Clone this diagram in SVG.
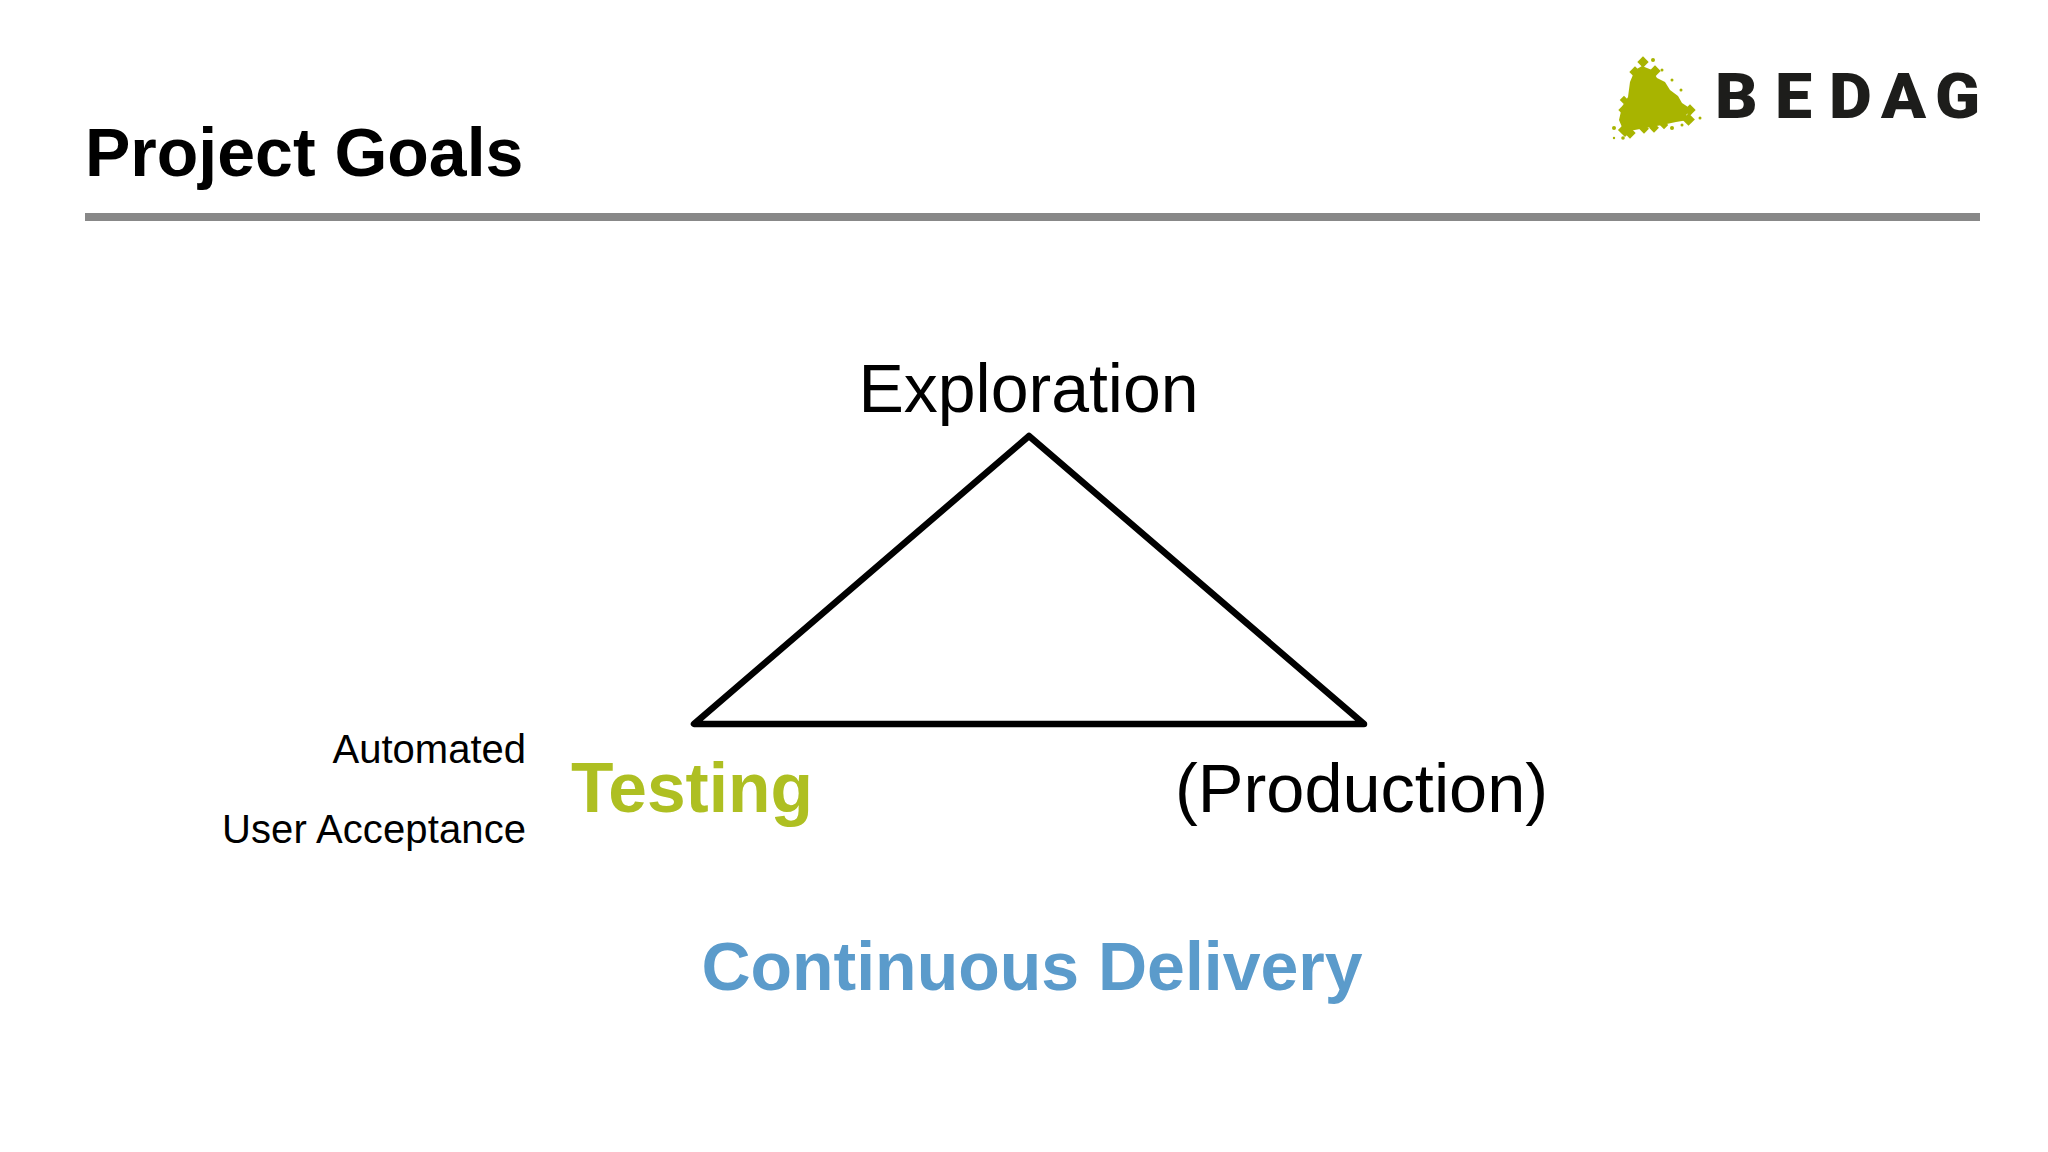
<svg xmlns="http://www.w3.org/2000/svg" width="2048" height="1152" viewBox="0 0 2048 1152">
<style>
text{font-family:"Liberation Sans",Arial,sans-serif;fill:#000}
.b{font-weight:700}
.big{font-size:68px}
.small{font-size:40px;text-anchor:end}
.dot{fill:#a8b400}
</style>
<rect width="2048" height="1152" fill="#fff"/>
<g id="header">
<text class="b big" x="85" y="176">Project Goals</text>
<rect x="85" y="213" width="1895" height="8" fill="#888"/>
</g>
<g id="logo">
<path class="dot" d="M1642 66L1652 70L1657 78L1665 82L1670 90L1678 96L1682 103L1688 107L1691 111L1686 115L1688 120L1676 122L1662 125L1640 129L1624 132L1619 120L1622 107L1628 97L1630 82L1635 70Z"/>
<g class="dot">
<rect x="1639" y="58" width="8" height="8" transform="rotate(45 1643 62)"/>
<rect x="1631" y="68" width="8" height="8" transform="rotate(45 1635 72)"/>
<rect x="1651" y="67" width="8" height="8" transform="rotate(45 1655 71)"/>
<rect x="1686" y="106" width="8" height="8" transform="rotate(45 1690 110)"/>
<rect x="1684" y="115" width="9" height="9" transform="rotate(45 1688.500 119.500)"/>
<rect x="1620" y="125" width="10" height="10" transform="rotate(45 1625 130)"/>
<rect x="1626" y="129" width="8" height="8" transform="rotate(45 1630 133)"/>
<rect x="1621" y="97" width="6" height="6" transform="rotate(45 1624 100)"/>
<rect x="1620" y="106" width="8" height="8" transform="rotate(45 1624 110)"/>
<rect x="1641" y="125" width="7" height="7" transform="rotate(45 1644 128)"/>
<rect x="1651" y="124" width="7" height="7" transform="rotate(45 1654 127)"/>
<rect x="1661" y="122" width="6" height="6" transform="rotate(45 1664 125)"/>
<circle cx="1653" cy="60" r="2"/><circle cx="1662" cy="70" r="1.500"/><circle cx="1672" cy="80" r="1.500"/><circle cx="1681" cy="90" r="1.500"/><circle cx="1700" cy="118" r="1.500"/><circle cx="1614" cy="128" r="2"/><circle cx="1614" cy="138" r="1.200"/><circle cx="1623" cy="138" r="1.800"/><circle cx="1672" cy="128" r="2"/><circle cx="1682" cy="125" r="1.500"/>
</g>
<text transform="scale(1.05 1)" x="1633.300 1690.500 1742 1791.400 1842.900" y="118" font-size="63" font-weight="900" style="font-family:Roboto,sans-serif;fill:#1d1d1b">BEDAG</text>
</g>
<g id="connectors">
<path d="M1029 436L694 724H1364Z" fill="none" stroke="#000" stroke-width="6.500" stroke-linejoin="round"/>
</g>
<g id="node-exploration"><text class="big" x="1028.500" y="412" text-anchor="middle">Exploration</text></g>
<g id="node-testing"><text class="b" font-size="69.500" x="571" y="812" style="fill:#aebf22">Testing</text></g>
<g id="node-production"><text font-size="68.500" x="1175" y="812">(Production)</text></g>
<g id="note-automated"><text class="small" x="526" y="763">Automated</text></g>
<g id="note-user-acceptance"><text class="small" x="526" y="843" textLength="304">User Acceptance</text></g>
<g id="node-continuous-delivery"><text class="b big" x="1032" y="990" text-anchor="middle" style="fill:#5b9bcb">Continuous Delivery</text></g>
</svg>
